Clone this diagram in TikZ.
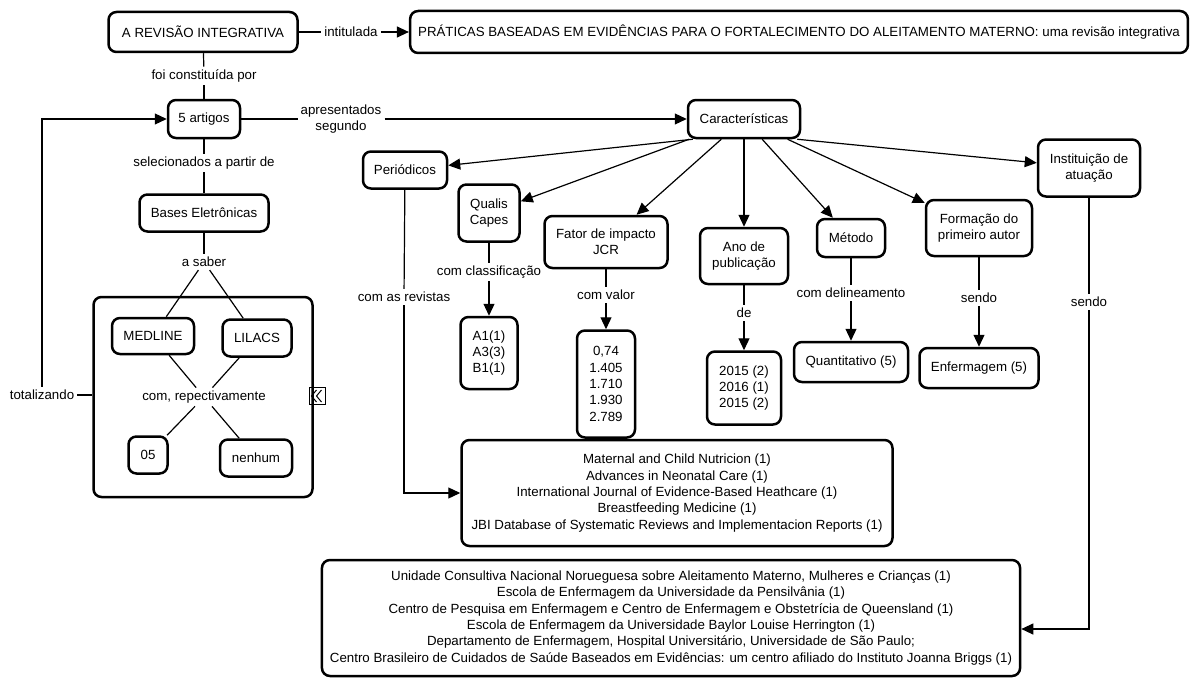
\documentclass[tikz,border=0pt]{standalone}
\usepackage{fontspec}
\setmainfont{Liberation Sans}
\usetikzlibrary{arrows.meta}
\tikzset{
  caixa/.style={draw, line width=2.5pt, rounded corners=8pt, align=center, inner xsep=8pt, inner ysep=6pt},
  rotulo/.style={align=center, inner sep=3pt},
  liga/.style={line width=1.2pt},
  seta/.style={line width=1.2pt, -{Triangle[length=12pt,width=11pt]}},
}
\begin{document}
\begin{tikzpicture}[x=1pt, y=-1pt, font=\fontsize{13.3pt}{16.3pt}\selectfont]
      \useasboundingbox (0,0) rectangle (1190,677);
      \node[caixa, minimum width=189, minimum height=40] (rev) at (203,32) {A REVISÃO INTEGRATIVA};
      \node[caixa, minimum width=772, minimum height=42] (tit) at (799,32) {PRÁTICAS BASEADAS EM EVIDÊNCIAS PARA O FORTALECIMENTO DO ALEITAMENTO MATERNO: uma revisão integrativa};
      \node[rotulo] (lint) at (351,32) {intitulada};
      \node[rotulo] (lfoi) at (204,76) {foi constituída por};
      \node[caixa, minimum width=72, minimum height=38] (art) at (204,119) {5 artigos};
      \node[rotulo] (lapr) at (341,119) {apresentados\\segundo};
      \node[caixa, minimum width=112, minimum height=38] (car) at (744,119) {Características};
      \node[rotulo] (lsel) at (204,163) {selecionados a partir de};
      \node[caixa, minimum width=129, minimum height=37] (bases) at (204,213) {Bases Eletrônicas};
      \node[rotulo] (lsab) at (204,262) {a saber};
      % grupo das bases
      \node[caixa, minimum width=219, minimum height=200] (grupo) at (203,397) {};
      \node[caixa, minimum width=82, minimum height=36] (med) at (153,336) {MEDLINE};
      \node[caixa, minimum width=69, minimum height=37] (lil) at (257,338) {LILACS};
      \node[rotulo] (lrep) at (204,397) {com, repectivamente};
      \node[caixa, minimum width=39, minimum height=37] (cinco) at (148,455) {05};
      \node[caixa, minimum width=72, minimum height=37] (nen) at (256,458) {nenhum};
      \node[rotulo] (ltot) at (42,395) {totalizando};
      \node[draw, line width=1pt, minimum width=16, minimum height=17, inner sep=0pt] (icone) at (317,396) {};
      \draw[line width=1pt] ([xshift=-0.5pt,yshift=6pt]icone.center) -- ([xshift=-5.5pt]icone.center) -- ([xshift=-0.5pt,yshift=-6pt]icone.center);
      \draw[line width=1pt] ([xshift=4.5pt,yshift=6pt]icone.center) -- ([xshift=-0.5pt]icone.center) -- ([xshift=4.5pt,yshift=-6pt]icone.center);
      % caracteristicas
      \node[caixa, minimum width=84, minimum height=37] (per) at (405,170) {Periódicos};
      \node[caixa, minimum width=61, minimum height=57] (qua) at (489,213) {Qualis\\Capes};
      \node[caixa, minimum width=123, minimum height=52] (fat) at (606,242) {Fator de impacto\\JCR};
      \node[caixa, minimum width=88, minimum height=56] (ano) at (744,256) {Ano de\\publicação};
      \node[caixa, minimum width=68, minimum height=38] (met) at (851,238) {Método};
      \node[caixa, minimum width=106, minimum height=56] (form) at (979,228) {Formação do\\primeiro autor};
      \node[caixa, minimum width=102, minimum height=57] (inst) at (1089,168) {Instituição de\\atuação};
      \node[rotulo] (lrev) at (404,297) {com as revistas};
      \node[rotulo] (lcla) at (489,272) {com classificação};
      \node[rotulo] (lval) at (606,295) {com valor};
      \node[rotulo] (lde) at (744,313) {de};
      \node[rotulo] (ldel) at (851,293) {com delineamento};
      \node[rotulo] (lsen) at (979,298) {sendo};
      \node[rotulo] (lsen2) at (1089,302) {sendo};
      \node[caixa, minimum width=57, minimum height=72] (qleaf) at (489,353) {A1(1)\\A3(3)\\B1(1)};
      \node[caixa, minimum width=58, minimum height=107] (vleaf) at (606,384) {0,74\\1.405\\1.710\\1.930\\2.789};
      \node[caixa, minimum width=74, minimum height=73] (aleaf) at (744,388) {2015 (2)\\2016 (1)\\2015 (2)};
      \node[caixa, minimum width=114, minimum height=40] (mleaf) at (851,362) {Quantitativo (5)};
      \node[caixa, minimum width=119, minimum height=40] (fleaf) at (979,368) {Enfermagem (5)};
      \node[caixa, minimum width=431, minimum height=106] (jour) at (677,493) {Maternal and Child Nutricion (1)\\Advances in Neonatal Care (1)\\International Journal of Evidence-Based Heathcare (1)\\Breastfeeding Medicine (1)\\JBI Database of Systematic Reviews and Implementacion Reports (1)};
      \node[caixa, minimum width=693, minimum height=116] (ibox) at (671,618) {Unidade Consultiva Nacional Norueguesa sobre Aleitamento Materno, Mulheres e Crianças (1)\\Escola de Enfermagem da Universidade da Pensilvânia (1)\\Centro de Pesquisa em Enfermagem e Centro de Enfermagem e Obstetrícia de Queensland (1)\\Escola de Enfermagem da Universidade Baylor Louise Herrington (1)\\Departamento de Enfermagem, Hospital Universitário, Universidade de São Paulo;\\Centro Brasileiro de Cuidados de Saúde Baseados em Evidências: um centro afiliado do Instituto Joanna Briggs (1)};
      % ligacoes
      \draw[liga] (rev) -- (lint);
      \draw[seta] (lint) -- (tit);
      \draw[liga] (rev) -- (lfoi);
      \draw[liga] (lfoi) -- (art);
      \draw[liga] (art) -- (lapr);
      \draw[seta] (lapr) -- (car);
      \draw[liga] (art) -- (lsel);
      \draw[liga] (lsel) -- (bases);
      \draw[liga] (bases) -- (lsab);
      \draw[liga] (lsab) -- (med);
      \draw[liga] (lsab) -- (lil);
      \draw[liga] (med) -- (lrep);
      \draw[liga] (lil) -- (lrep);
      \draw[liga] (lrep) -- (cinco);
      \draw[liga] (lrep) -- (nen);
      \draw[liga] (ltot) -- (ltot -| grupo.west);
      \draw[seta] (ltot) |- (art);
      \draw[seta] ([xshift=6pt]car.south west) -- (per);
      \draw[seta] (car) -- (qua);
      \draw[seta] (car) -- (fat);
      \draw[seta] (car) -- (ano);
      \draw[seta] (car) -- (met);
      \draw[seta] (car) -- (form);
      \draw[seta] ([xshift=-4pt]car.south east) -- (inst);
      \draw[liga] (per) -- (lrev);
      \draw[seta] (lrev) |- (jour);
      \draw[liga] (qua) -- (lcla);
      \draw[seta] (lcla) -- (qleaf);
      \draw[liga] (fat) -- (lval);
      \draw[seta] (lval) -- (vleaf);
      \draw[liga] (ano) -- (lde);
      \draw[seta] (lde) -- (aleaf);
      \draw[liga] (met) -- (ldel);
      \draw[seta] (ldel) -- (mleaf);
      \draw[liga] (form) -- (lsen);
      \draw[seta] (lsen) -- (fleaf);
      \draw[liga] (inst) -- (lsen2);
      \draw[seta] (lsen2) |- ([yshift=-11pt]ibox.east);
\end{tikzpicture}
\end{document}
